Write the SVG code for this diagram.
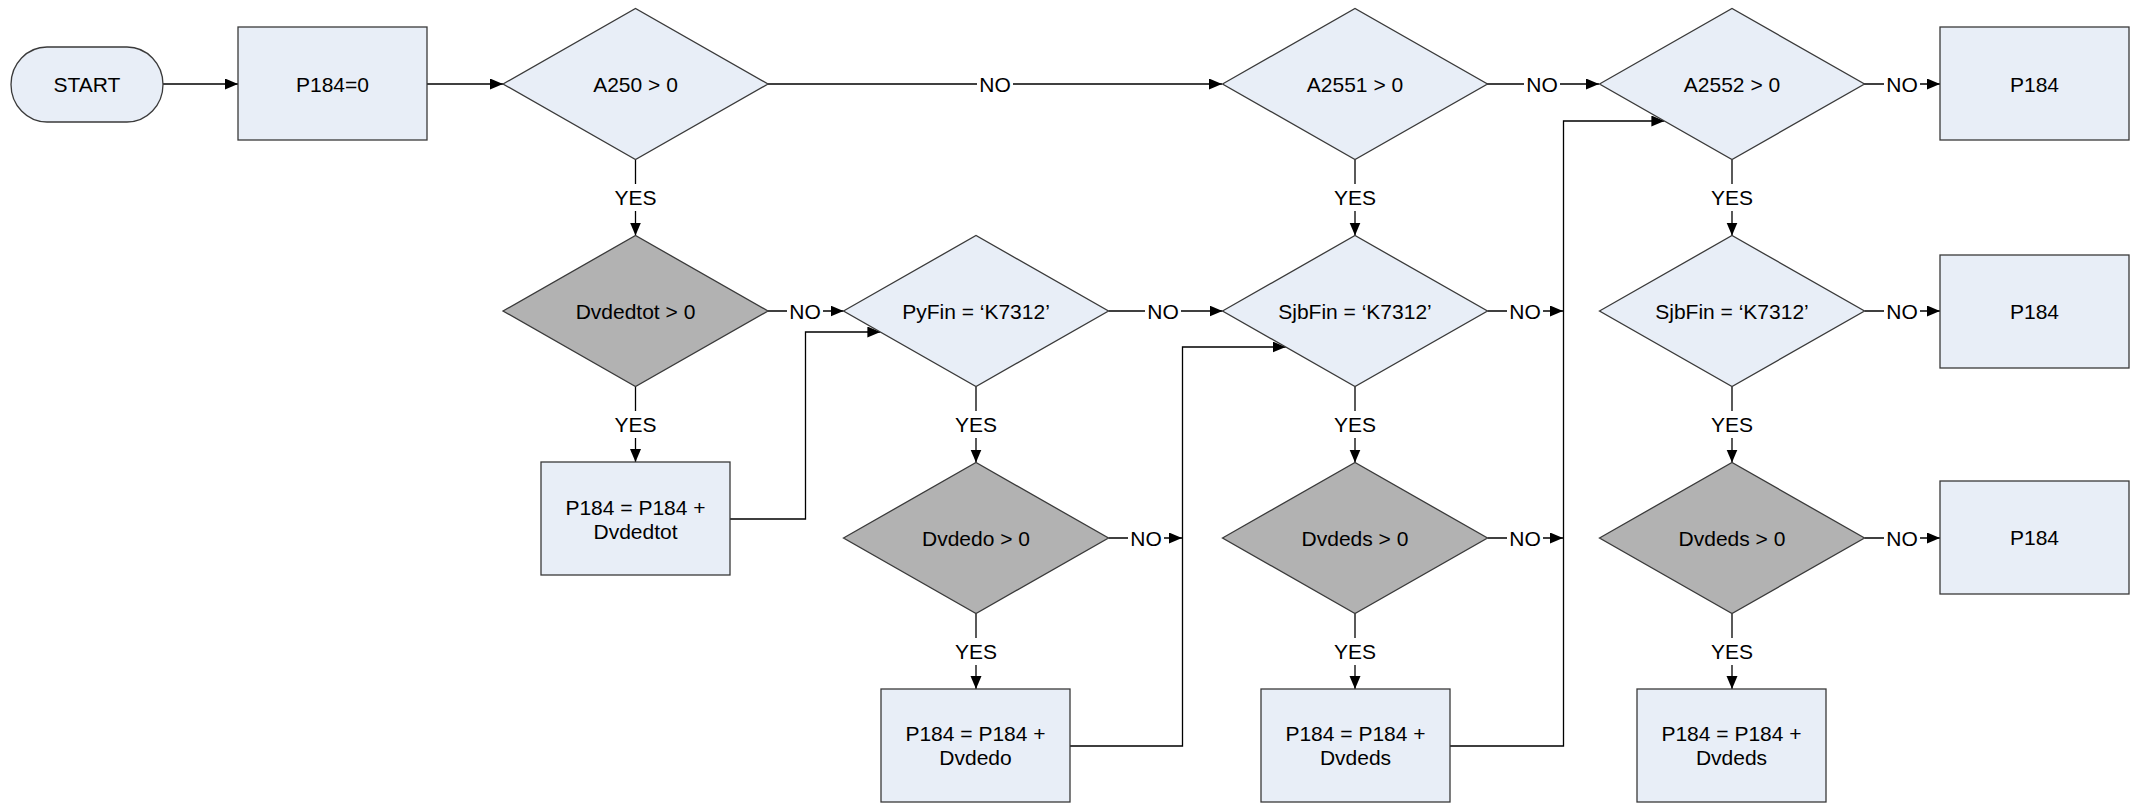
<svg xmlns="http://www.w3.org/2000/svg" width="2132" height="803" viewBox="0 0 2132 803">
<style>
.box{fill:#E8EEF7;stroke:#3a3a3a;stroke-width:1.3}
.dec{fill:#E8EEF7;stroke:#3a3a3a;stroke-width:1.3}
.gray{fill:#B2B2B2;stroke:#3a3a3a;stroke-width:1.3}
.t{font-family:"Liberation Sans",Arial,sans-serif;font-size:21px;fill:#000;text-anchor:middle}
.c{fill:none;stroke:#000;stroke-width:1.3}
.lb{fill:#fff}
</style>
<defs>
<marker id="ah" markerUnits="userSpaceOnUse" markerWidth="14" markerHeight="12" refX="13" refY="5.5" orient="auto">
<path d="M0,0 L13,5.5 L0,11 z" fill="#000"/>
</marker>
</defs>
<g id="connectors">
<path class="c" d="M163,84 H238" marker-end="url(#ah)"/>
<path class="c" d="M427,84 H503" marker-end="url(#ah)"/>
<path class="c" d="M768,84 H1222" marker-end="url(#ah)"/>
<path class="c" d="M1487,84 H1599" marker-end="url(#ah)"/>
<path class="c" d="M1864,84 H1940" marker-end="url(#ah)"/>
<path class="c" d="M635.5,159.5 V235.5" marker-end="url(#ah)"/>
<path class="c" d="M1355,159.5 V235.5" marker-end="url(#ah)"/>
<path class="c" d="M1732,159.5 V235.5" marker-end="url(#ah)"/>
<path class="c" d="M768,311 H843.5" marker-end="url(#ah)"/>
<path class="c" d="M1108.5,311 H1222.5" marker-end="url(#ah)"/>
<path class="c" d="M1487.5,311 H1563" marker-end="url(#ah)"/>
<path class="c" d="M1864.5,311 H1940" marker-end="url(#ah)"/>
<path class="c" d="M635.5,386.5 V462" marker-end="url(#ah)"/>
<path class="c" d="M976,386.5 V462.5" marker-end="url(#ah)"/>
<path class="c" d="M1355,386.5 V462.5" marker-end="url(#ah)"/>
<path class="c" d="M1732,386.5 V462.5" marker-end="url(#ah)"/>
<path class="c" d="M730,519 H805.5 V332 H880.4" marker-end="url(#ah)"/>
<path class="c" d="M1108.5,538 H1182" marker-end="url(#ah)"/>
<path class="c" d="M1487.5,538 H1563" marker-end="url(#ah)"/>
<path class="c" d="M1864.5,538 H1940" marker-end="url(#ah)"/>
<path class="c" d="M976,613.5 V689" marker-end="url(#ah)"/>
<path class="c" d="M1355,613.5 V689" marker-end="url(#ah)"/>
<path class="c" d="M1732,613.5 V689" marker-end="url(#ah)"/>
<path class="c" d="M1070,746 H1182.5 V347 H1285.7" marker-end="url(#ah)"/>
<path class="c" d="M1450,746 H1563.5 V121 H1664.4" marker-end="url(#ah)"/>
<g id="labels">
<rect class="lb" x="977" y="72" width="36" height="24"/><text class="t" x="995" y="91.5">NO</text>
<rect class="lb" x="1524" y="72" width="36" height="24"/><text class="t" x="1542" y="91.5">NO</text>
<rect class="lb" x="1884" y="72" width="36" height="24"/><text class="t" x="1902" y="91.5">NO</text>
<rect class="lb" x="787" y="299" width="36" height="24"/><text class="t" x="805" y="318.5">NO</text>
<rect class="lb" x="1145" y="299" width="36" height="24"/><text class="t" x="1163" y="318.5">NO</text>
<rect class="lb" x="1507" y="299" width="36" height="24"/><text class="t" x="1525" y="318.5">NO</text>
<rect class="lb" x="1884" y="299" width="36" height="24"/><text class="t" x="1902" y="318.5">NO</text>
<rect class="lb" x="1128" y="526" width="36" height="24"/><text class="t" x="1146" y="545.5">NO</text>
<rect class="lb" x="1507" y="526" width="36" height="24"/><text class="t" x="1525" y="545.5">NO</text>
<rect class="lb" x="1884" y="526" width="36" height="24"/><text class="t" x="1902" y="545.5">NO</text>
<rect class="lb" x="613" y="184" width="45" height="27"/><text class="t" x="635.5" y="204.5">YES</text>
<rect class="lb" x="1332.5" y="184" width="45" height="27"/><text class="t" x="1355" y="204.5">YES</text>
<rect class="lb" x="1709.5" y="184" width="45" height="27"/><text class="t" x="1732" y="204.5">YES</text>
<rect class="lb" x="613" y="411" width="45" height="27"/><text class="t" x="635.5" y="431.5">YES</text>
<rect class="lb" x="953.5" y="411" width="45" height="27"/><text class="t" x="976" y="431.5">YES</text>
<rect class="lb" x="1332.5" y="411" width="45" height="27"/><text class="t" x="1355" y="431.5">YES</text>
<rect class="lb" x="1709.5" y="411" width="45" height="27"/><text class="t" x="1732" y="431.5">YES</text>
<rect class="lb" x="953.5" y="638" width="45" height="27"/><text class="t" x="976" y="658.5">YES</text>
<rect class="lb" x="1332.5" y="638" width="45" height="27"/><text class="t" x="1355" y="658.5">YES</text>
<rect class="lb" x="1709.5" y="638" width="45" height="27"/><text class="t" x="1732" y="658.5">YES</text>
</g>
</g>
<g id="start"><rect class="box" x="11" y="47" width="152" height="75" rx="36" ry="37.5"/><text class="t" x="87" y="92">START</text></g>
<g id="p184_init"><rect class="box" x="238" y="27" width="189" height="113"/><text class="t" x="332.5" y="91.5">P184=0</text></g>
<g id="d_a250"><polygon class="dec" points="503,84 635.5,8.5 768,84 635.5,159.5"/><text class="t" x="635.5" y="91.5">A250 &gt; 0</text></g>
<g id="d_a2551"><polygon class="dec" points="1222.5,84 1355,8.5 1487.5,84 1355,159.5"/><text class="t" x="1355" y="91.5">A2551 &gt; 0</text></g>
<g id="d_a2552"><polygon class="dec" points="1599.5,84 1732,8.5 1864.5,84 1732,159.5"/><text class="t" x="1732" y="91.5">A2552 &gt; 0</text></g>
<g id="p184_a"><rect class="box" x="1940" y="27" width="189" height="113"/><text class="t" x="2034.5" y="91.5">P184</text></g>
<g id="d_dvdedtot"><polygon class="gray" points="503,311 635.5,235.5 768,311 635.5,386.5"/><text class="t" x="635.5" y="318.5">Dvdedtot &gt; 0</text></g>
<g id="d_pyfin"><polygon class="dec" points="843.5,311 976,235.5 1108.5,311 976,386.5"/><text class="t" x="976" y="318.5">PyFin = ‘K7312’</text></g>
<g id="d_sjbfin3"><polygon class="dec" points="1222.5,311 1355,235.5 1487.5,311 1355,386.5"/><text class="t" x="1355" y="318.5">SjbFin = ‘K7312’</text></g>
<g id="d_sjbfin4"><polygon class="dec" points="1599.5,311 1732,235.5 1864.5,311 1732,386.5"/><text class="t" x="1732" y="318.5">SjbFin = ‘K7312’</text></g>
<g id="p184_b"><rect class="box" x="1940" y="255" width="189" height="113"/><text class="t" x="2034.5" y="319">P184</text></g>
<g id="add_dvdedtot"><rect class="box" x="541" y="462" width="189" height="113"/><text class="t" x="635.5" y="514.5">P184 = P184 +</text><text class="t" x="635.5" y="538.5">Dvdedtot</text></g>
<g id="d_dvdedo"><polygon class="gray" points="843.5,538 976,462.5 1108.5,538 976,613.5"/><text class="t" x="976" y="545.5">Dvdedo &gt; 0</text></g>
<g id="d_dvdeds3"><polygon class="gray" points="1222.5,538 1355,462.5 1487.5,538 1355,613.5"/><text class="t" x="1355" y="545.5">Dvdeds &gt; 0</text></g>
<g id="d_dvdeds4"><polygon class="gray" points="1599.5,538 1732,462.5 1864.5,538 1732,613.5"/><text class="t" x="1732" y="545.5">Dvdeds &gt; 0</text></g>
<g id="p184_c"><rect class="box" x="1940" y="481" width="189" height="113"/><text class="t" x="2034.5" y="545">P184</text></g>
<g id="add_dvdedo"><rect class="box" x="881" y="689" width="189" height="113"/><text class="t" x="975.5" y="741">P184 = P184 +</text><text class="t" x="975.5" y="765">Dvdedo</text></g>
<g id="add_dvdeds3"><rect class="box" x="1261" y="689" width="189" height="113"/><text class="t" x="1355.5" y="741">P184 = P184 +</text><text class="t" x="1355.5" y="765">Dvdeds</text></g>
<g id="add_dvdeds4"><rect class="box" x="1637" y="689" width="189" height="113"/><text class="t" x="1731.5" y="741">P184 = P184 +</text><text class="t" x="1731.5" y="765">Dvdeds</text></g>
</svg>
